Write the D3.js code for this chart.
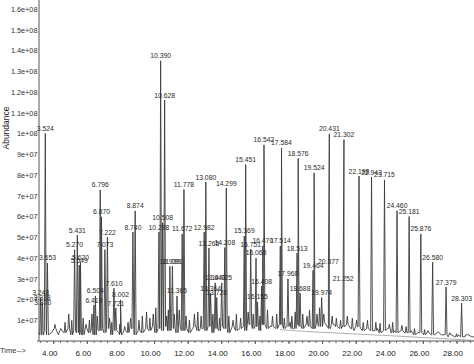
<!DOCTYPE html>
<html>
<head>
<meta charset="utf-8">
<script src="https://cdn.jsdelivr.net/npm/d3@7"></script>
<style>
  body { margin: 0; background: #fff; }
  svg { display: block; font-family: "Liberation Sans", Arial, sans-serif; }
</style>
</head>
<body>
<svg id="chart" width="474" height="364"></svg>
<script>
// labelled peaks: retention time (min) and apex abundance (x 1e7)
let peakTimes = [3.248, 3.338, 3.370, 3.524, 3.653, 5.270, 5.431, 5.549, 5.620, 6.419,
  6.504, 6.796, 6.870, 7.073, 7.222, 7.610, 7.721, 8.002, 8.740, 8.874,
  10.288, 10.390, 10.508, 10.628, 10.939, 11.091, 11.365, 11.672, 11.778, 12.982,
  13.080, 13.265, 13.364, 13.640, 13.728, 14.025, 14.208, 14.299, 15.369, 15.451,
  15.751, 16.068, 16.155, 16.408, 16.470, 16.542, 17.514, 17.584, 17.968, 18.513,
  18.576, 18.688, 19.464, 19.524, 19.974, 20.377, 20.431, 21.252, 21.302, 22.198,
  22.943, 23.715, 24.460, 25.181, 25.876, 26.580, 27.379, 28.303];
let peakValues = [2.1, 1.85, 1.6, 10.0, 3.76, 4.4, 5.1, 3.66, 3.8, 1.73,
  2.17, 7.28, 5.98, 4.4, 5.0, 2.55, 1.59, 1.98, 5.25, 6.27,
  5.25, 13.5, 5.7, 11.6, 3.6, 3.6, 2.17, 5.16, 7.3, 5.25,
  7.66, 4.48, 2.3, 2.8, 2.1, 2.8, 4.5, 7.37, 5.06, 8.5,
  4.43, 4.0, 1.88, 2.65, 4.58, 9.45, 4.58, 9.3, 3.0, 4.24,
  8.8, 2.3, 3.4, 8.1, 2.1, 3.6, 9.98, 2.75, 9.7, 7.95,
  7.9, 7.76, 6.27, 6.0, 5.16, 3.8, 2.6, 1.83];

// small unlabelled peaks (time, abundance x 1e7)
let minorPeaks = [[4.10,0.8],[4.45,0.6],[4.70,0.9],[4.92,1.3],[5.10,1.0],[5.78,1.1],[5.95,0.8],
  [6.15,1.0],[6.30,1.3],[6.62,1.2],[7.35,1.1],[7.48,0.9],[7.95,0.8],[8.25,0.7],[8.45,0.9],
  [8.60,1.1],[9.10,1.0],[9.30,1.2],[9.55,1.4],[9.75,1.1],[9.95,1.3],[10.10,1.6],[10.75,1.2],
  [10.85,1.5],[11.20,1.3],[11.50,1.5],[11.90,1.2],[12.10,1.0],[12.40,1.3],[12.60,1.4],
  [12.80,1.2],[13.50,1.3],[13.90,1.1],[14.45,1.2],[14.70,1.0],[14.90,1.3],[15.15,1.1],
  [15.60,1.4],[15.90,1.3],[16.30,1.2],[16.75,1.5],[17.05,1.2],[17.30,1.3],[17.75,1.1],
  [18.20,1.2],[18.40,1.4],[18.85,1.3],[19.10,1.2],[19.25,1.5],[19.70,1.3],[19.85,1.6],
  [20.10,1.3],[20.60,1.2],[20.85,1.1],[21.10,1.0],[21.50,1.2],[21.80,1.1],[22.05,1.0],
  [22.45,0.9],[22.70,1.0],[23.20,0.9],[23.45,0.85],[24.00,0.8],[24.20,0.9],[24.75,0.75],
  [25.00,0.7],[25.50,0.6],[26.10,0.55],[26.30,0.5],[26.90,0.45],[27.60,0.4],[28.00,0.35],[28.60,0.3]];

// baseline noise, one reading every 0.2 min from 3.1 min (x 1e6)
let baseStart = 3.1;
let baseStep = 0.2;
let baseValues = [4,3,5,3,4,6,3,5,4,6, 3,5,4,3,6,4,5,3,5,6, 4,6,3,5,4,3,5,4,6,3,
  5,4,6,5,7,4,6,5,7,5, 6,4,7,5,6,4,6,7,5,6, 5,7,4,6,5,7,6,4,7,5,
  6,7,5,8,6,7,5,8,6,7, 7,6,8,6,7,9,6,8,7,6, 8,7,6,8,7,9,7,6,8,7,
  6,7,8,6,5,7,6,5,6,5, 5,6,4,5,6,4,5,4,5,4, 4,5,3,4,4,3,4,3,3,4,
  3,3,2,3,2,3,2,2,3,2, 2];

// smooth drift line under the late part of the run (time, abundance x 1e6)
let driftLine = [[17.5,5.5],[19.5,4.3],[21.5,3.6],[23.5,2.8],[25.5,1.9],[27.5,1.0],[29.0,0.3]];

let xTicks = [4, 6, 8, 10, 12, 14, 16, 18, 20, 22, 24, 26, 28];
let yTicks = [1e7, 2e7, 3e7, 4e7, 5e7, 6e7, 7e7, 8e7, 9e7, 1e8, 1.1e8, 1.2e8, 1.3e8, 1.4e8, 1.5e8, 1.6e8];

let svg = d3.select('#chart');

let x = d3.scaleLinear().domain([3.15, 29.0]).range([39, 473.3]);
let y = d3.scaleLinear().domain([0, 1.643e8]).range([341, 0]);

function fmtExp(v) {
  let parts = v.toExponential().split('e');
  let e = +parts[1];
  return parts[0] + 'e' + (e < 0 ? '-' : '+') + String(Math.abs(e)).padStart(2, '0');
}

// baseline lookup
let basePts = baseValues.map(function(v, i) { return [baseStart + i * baseStep, v * 1e6]; });
function baseAt(t) {
  let i = Math.round((t - baseStart) / baseStep);
  i = Math.max(0, Math.min(basePts.length - 1, i));
  return basePts[i][1];
}

// build the trace
let spikes = [];
peakTimes.forEach(function(t, i) { spikes.push({ t: t, v: peakValues[i] * 1e7, w: 0.055 }); });
minorPeaks.forEach(function(p) { spikes.push({ t: p[0], v: p[1] * 1e7, w: 0.05 }); });

let trace = basePts.filter(function(p) {
  return !spikes.some(function(s) { return Math.abs(p[0] - s.t) < s.w; });
});
spikes.forEach(function(s) {
  let b = baseAt(s.t);
  trace.push([s.t - s.w, b], [s.t, s.v], [s.t + s.w, b]);
});
trace.sort(function(a, b) { return a[0] - b[0]; });

let line = d3.line()
  .x(function(d) { return x(d[0]); })
  .y(function(d) { return y(d[1]); });

svg.append('path')
  .datum(driftLine.map(function(d) { return [d[0], d[1] * 1e6]; }))
  .attr('d', d3.line().curve(d3.curveBasis).x(function(d) { return x(d[0]); }).y(function(d) { return y(d[1]); }))
  .attr('fill', 'none')
  .attr('stroke', '#9a9a9a')
  .attr('stroke-width', 0.8);

svg.append('path')
  .datum(trace)
  .attr('d', line)
  .attr('fill', 'none')
  .attr('stroke', '#3c3c3c')
  .attr('stroke-width', 0.9)
  .attr('stroke-linejoin', 'miter');

// peak labels
svg.append('g')
  .selectAll('text')
  .data(peakTimes)
  .join('text')
  .attr('x', function(t) { return x(t); })
  .attr('y', function(t, i) { return y(peakValues[i] * 1e7) - 2.5; })
  .attr('text-anchor', 'middle')
  .attr('font-size', 6.8)
  .attr('fill', '#2a2a2a')
  .text(function(t) { return t.toFixed(3); });

// y axis
let yAxis = svg.append('g').attr('transform', 'translate(39,0)')
  .call(d3.axisLeft(y).tickValues(yTicks).tickSize(0).tickPadding(1.5).tickFormat(fmtExp));
yAxis.select('.domain').attr('stroke', '#555').attr('d', 'M0,0V341');
yAxis.selectAll('text').attr('font-size', 7.3).attr('fill', '#333').attr('font-family', null);

// x axis with minor ticks
let minor = d3.range(3.2, 29.0, 0.4);
let xMinor = svg.append('g').attr('transform', 'translate(0,341)')
  .call(d3.axisBottom(x).tickValues(minor).tickSize(2).tickFormat(''));
xMinor.select('.domain').attr('stroke', '#555').attr('d', 'M37,0H474');
xMinor.selectAll('line').attr('stroke', '#666');

let xAxis = svg.append('g').attr('transform', 'translate(0,341)')
  .call(d3.axisBottom(x).tickValues(xTicks).tickSize(3).tickPadding(6).tickFormat(d3.format('.2f')));
xAxis.select('.domain').remove();
xAxis.selectAll('line').attr('stroke', '#555');
xAxis.selectAll('text').attr('font-size', 8).attr('fill', '#222').attr('dx', -4).attr('font-family', null);

svg.append('text')
  .attr('transform', 'translate(9,128) rotate(-90)')
  .attr('text-anchor', 'middle')
  .attr('font-size', 8.5)
  .attr('fill', '#222')
  .text('Abundance');

svg.append('text')
  .attr('x', 0)
  .attr('y', 353)
  .attr('font-size', 7.5)
  .attr('fill', '#333')
  .text('Time-->');
</script>
</body>
</html>
